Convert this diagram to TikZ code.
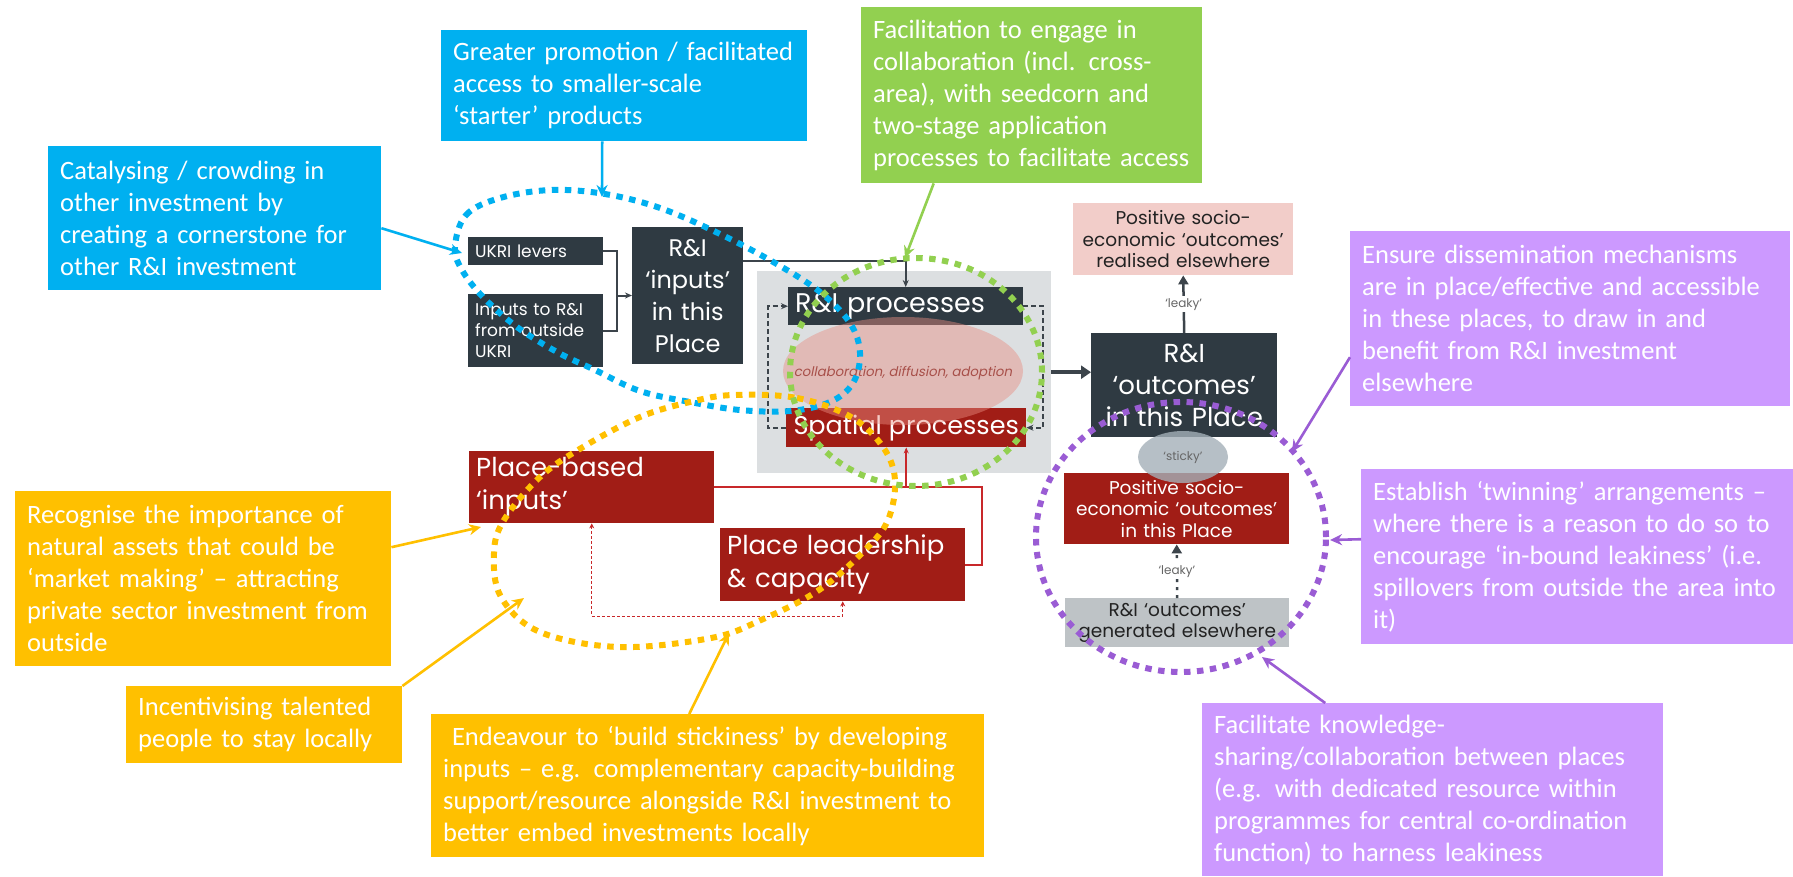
\documentclass[tikz,border=0pt]{standalone}
\usepackage{fontspec}
\setmainfont{Poppins}
\newfontfamily\callfont{Carlito}
\newfontfamily\slfont[FakeSlant=0.2]{Poppins}
\usetikzlibrary{arrows.meta,calc,shapes.geometric}

\definecolor{cblue}{HTML}{00B0F0}
\definecolor{cgreen}{HTML}{92D050}
\definecolor{corange}{HTML}{FFC000}
\definecolor{cpurple}{HTML}{CC99FF}
\definecolor{dpurple}{HTML}{9A5CD4}
\definecolor{slate}{HTML}{2F3A42}
\definecolor{brick}{HTML}{A11D16}
\definecolor{rose}{HTML}{F2CDC9}
\definecolor{stone}{HTML}{BEC3C6}
\definecolor{mist}{HTML}{DCDFE1}
\definecolor{blush}{HTML}{E98E82}
\definecolor{wire}{HTML}{3C444B}
\definecolor{redwire}{HTML}{C8282A}
\definecolor{smoke}{HTML}{A4B0B8}
\definecolor{collab}{HTML}{A8504A}
\definecolor{inkgray}{HTML}{222222}

\begin{document}
\begin{tikzpicture}[x=1pt,y=-1pt,
  cbox/.style={anchor=north west, fill=#1, text=white,
    font=\callfont\fontsize{26.5}{32}\selectfont, align=left,
    inner xsep=12pt, inner ysep=4pt},
  calllink/.style={draw=#1, line width=2.6pt, -{Stealth[length=12pt,width=11pt]}},
  ring/.style={draw=#1, line width=6pt, dash pattern=on 6.5pt off 6.5pt},
  dbox/.style={anchor=north west, fill=#1, text=white, inner ysep=0pt},
  wireline/.style={draw=wire, line width=2pt},
  wirearrow/.style={wireline, -{Stealth[length=7pt,width=6pt]}},
  redline/.style={draw=redwire, line width=2pt},
  tag/.style={fill=white, text=black!60, font=\fontsize{12}{12}\selectfont, inner sep=2pt},
]
\useasboundingbox (0,0) rectangle (1793,876);
\fill[white] (0,0) rectangle (1793,876);

% ---- policy callouts ----
\node[cbox=cblue, minimum width=366pt, minimum height=111pt, text width=342pt] (grt) at (441,30)
  {Greater promotion / facilitated\\access to smaller-scale\\‘starter’ products};
\node[cbox=cblue, minimum width=333pt, minimum height=144pt, text width=309pt] (cat) at (48,146)
  {Catalysing / crowding in\\other investment by\\creating a cornerstone for\\other R\&I investment};
\node[cbox=cgreen, minimum width=341pt, minimum height=176pt, text width=317pt] (grn) at (861,7)
  {Facilitation to engage in\\collaboration (incl. cross-\\area), with seedcorn and\\two-stage application\\processes to facilitate access};
\node[cbox=cpurple, minimum width=440pt, minimum height=175pt, text width=416pt] (ens) at (1350,231)
  {Ensure dissemination mechanisms\\are in place/effective and accessible\\in these places, to draw in and\\benefit from R\&I investment\\elsewhere};
\node[cbox=cpurple, minimum width=432pt, minimum height=175pt, text width=408pt] (est) at (1361,469)
  {Establish ‘twinning’ arrangements –\\where there is a reason to do so to\\encourage ‘in-bound leakiness’ (i.e.\\spillovers from outside the area into\\it)};
\node[cbox=cpurple, minimum width=461pt, minimum height=173pt, text width=437pt] (fac) at (1202,703)
  {Facilitate knowledge-\\sharing/collaboration between places\\(e.g. with dedicated resource within\\programmes for central co-ordination\\function) to harness leakiness};
\node[cbox=corange, minimum width=376pt, minimum height=175pt, text width=352pt] (rec) at (15,491)
  {Recognise the importance of\\natural assets that could be\\‘market making’ – attracting\\private sector investment from\\outside};
\node[cbox=corange, minimum width=276pt, minimum height=77pt, text width=252pt] (inc) at (126,686)
  {Incentivising talented\\people to stay locally};
\node[cbox=corange, minimum width=553pt, minimum height=143pt, text width=529pt] (endv) at (431,714)
  {\ Endeavour to ‘build stickiness’ by developing\\inputs – e.g. complementary capacity-building\\support/resource alongside R\&I investment to\\better embed investments locally};

% ---- inputs ----
\node[dbox=slate, minimum width=135pt, minimum height=28pt, text width=121pt, inner xsep=7pt,
  align=left, font=\fontsize{17}{21}\selectfont] (ukri) at (468,237) {UKRI levers};
\node[dbox=slate, minimum width=135pt, minimum height=73pt, text width=121pt, inner xsep=7pt,
  align=left, font=\fontsize{17}{21}\selectfont] (ext) at (468,294) {Inputs to R\&I\\from outside\\UKRI};
\node[dbox=slate, minimum width=111pt, minimum height=137pt, text width=111pt, inner xsep=0pt,
  align=center, font=\fontsize{24}{32}\selectfont] (inp) at (632,227) {R\&I\\‘inputs’\\in this\\Place};

% ---- processes ----
\node[anchor=north west, fill=mist, minimum width=294pt, minimum height=202pt, inner sep=0pt] (bg) at (757,271) {};
\node[dbox=slate, minimum width=235pt, minimum height=38pt, text width=221pt, inner xsep=7pt,
  align=left, font=\fontsize{27}{32}\selectfont] (rip) at (788,287) {R\&I processes};
\node[dbox=brick, minimum width=240pt, minimum height=39pt, inner xsep=2pt,
  font=\fontsize{25.5}{30}\selectfont] (spat) at (786,408) {Spatial processes};
\fill[blush, opacity=0.45] (903,371) ellipse [x radius=120pt, y radius=54pt];
\node[text=collab, font=\slfont\fontsize{13.3}{14}\selectfont] (colla) at (903,373) {collaboration, diffusion, adoption};

% ---- outcomes ----
\node[dbox=slate, minimum width=186pt, minimum height=104pt, text width=186pt, inner xsep=0pt,
  align=center, font=\fontsize{26}{32}\selectfont] (outc) at (1091,333) {R\&I\\‘outcomes’\\in this Place};
\node[dbox=rose, text=inkgray, minimum width=220pt, minimum height=72pt, text width=220pt, inner xsep=0pt,
  align=center, font=\fontsize{18.5}{21.5}\selectfont] (away) at (1073,203) {Positive socio-\\economic ‘outcomes’\\realised elsewhere};
\node[dbox=brick, minimum width=225pt, minimum height=71pt, text width=225pt, inner xsep=0pt,
  align=center, font=\fontsize{18.5}{21.5}\selectfont] (here) at (1064,473) {Positive socio-\\economic ‘outcomes’\\in this Place};
\node[dbox=stone, text=inkgray, minimum width=224pt, minimum height=49pt, text width=224pt, inner xsep=0pt,
  align=center, font=\fontsize{18.5}{21.5}\selectfont] (gen) at (1065,598) {R\&I ‘outcomes’\\generated elsewhere};

% ---- place-based ----
\node[dbox=brick, minimum width=245pt, minimum height=72pt, text width=231pt, inner xsep=7pt,
  align=left, font=\fontsize{26}{33}\selectfont] (pbi) at (469,451) {Place-based\\‘inputs’};
\node[dbox=brick, minimum width=245pt, minimum height=73pt, text width=231pt, inner xsep=7pt,
  align=left, font=\fontsize{26}{33}\selectfont] (plc) at (720,528) {Place leadership\\\& capacity};

% ---- connectors ----
\coordinate (jn) at (617,295.5);
\draw[wireline] (ukri.east) -| (jn);
\draw[wireline] (ext.east) -| (jn);
\draw[wirearrow] (jn) -- (jn -| inp.west);
\draw[wirearrow] ($(inp.north east)!0.25!(inp.south east)$) -| (rip.north);
\draw[wirearrow, dash pattern=on 5pt off 3pt] (spat.west) -- ++(-18,0) |- (rip.west);
\draw[wirearrow, dash pattern=on 5pt off 3pt] (rip.east) -- ++(20,0) |- (spat.east);
\draw[draw=wire, line width=4pt, -{Triangle[length=10pt,width=13pt]}] (bg.east) -- (bg.east -| outc.west);
\draw[draw=wire, line width=2.5pt, -{Triangle[length=9pt,width=10pt]}]
  (outc.north) -- node[tag] {‘leaky’} (away.south);
\draw[draw=wire, line width=2.5pt, dash pattern=on 3pt off 5pt, -{Triangle[length=9pt,width=10pt]}]
  (gen.north) -- node[tag] {‘leaky’} (here.south);
\node[ellipse, fill=smoke, fill opacity=0.8, text opacity=1, text=black!60, minimum width=90pt,
  minimum height=52pt, font=\fontsize{12}{12}\selectfont] (sticky) at (1183,457) {‘sticky’};

\draw[redline] (pbi.east) -- ++(268,0) |- (plc.east);
\draw[redline, -{Stealth[length=6pt,width=5pt]}] (spat.south |- pbi.east) -- (spat.south);
\draw[draw=redwire, line width=1.2pt, dash pattern=on 3pt off 2pt,
  {Stealth[length=5pt,width=5pt]}-{Stealth[length=5pt,width=5pt]}]
  (pbi.south) -- ++(0,93) -| (plc.south);

% ---- callout pointers ----
\coordinate (catT) at (462,253);
\coordinate (grtT) at (602,197);
\coordinate (grnT) at (905,258);
\coordinate (ensT) at (1292,452);
\coordinate (estT) at (1330,540);
\coordinate (facT) at (1262,657);
\coordinate (recT) at (481,527);
\coordinate (incT) at (524,598);
\coordinate (endT) at (729,633);
\draw[calllink=cblue] ([yshift=-10pt]cat.east) -- (catT);
\draw[calllink=cblue] ([xshift=-22pt]grt.south) -- (grtT);
\draw[calllink=cgreen] ([xshift=-98pt]grn.south) -- (grnT);
\draw[calllink=dpurple] ([yshift=-38.5pt]ens.west) -- (ensT);
\draw[calllink=dpurple] ([yshift=17.5pt]est.west) -- (estT);
\draw[calllink=dpurple] ([xshift=-107.5pt]fac.north) -- (facT);
\draw[calllink=corange] ([yshift=31.5pt]rec.east) -- (recT);
\draw[calllink=corange] (inc.north east) -- (incT);
\draw[calllink=corange] ([xshift=-18.5pt]endv.north) -- (endT);

% ---- dotted groupings ----
\draw[ring=cblue] plot[smooth cycle, tension=0.6] coordinates {
  (455,247) (466,215) (500,198) (551,190) (605,194) (660,208) (718,233) (775,263)
  (820,292) (850,323) (860,353) (853,383) (830,402) (790,411) (740,410) (690,402)
  (640,391) (595,370) (557,352) (517,327) (483,297) (462,270)};
\draw[ring=corange] plot[smooth cycle, tension=0.6] coordinates {
  (733,395) (797,398) (851,417) (883,447) (895,480) (888,520) (865,550) (819,590)
  (761,620) (711,638) (619,647) (540,632) (501,597) (494,553) (504,520) (540,477)
  (583,447) (640,417) (690,402)};
\draw[ring=cgreen] (916,372) ellipse [x radius=126pt, y radius=114pt];
\draw[ring=dpurple] (1181,537) ellipse [x radius=145pt, y radius=135pt];
\end{tikzpicture}
\end{document}
